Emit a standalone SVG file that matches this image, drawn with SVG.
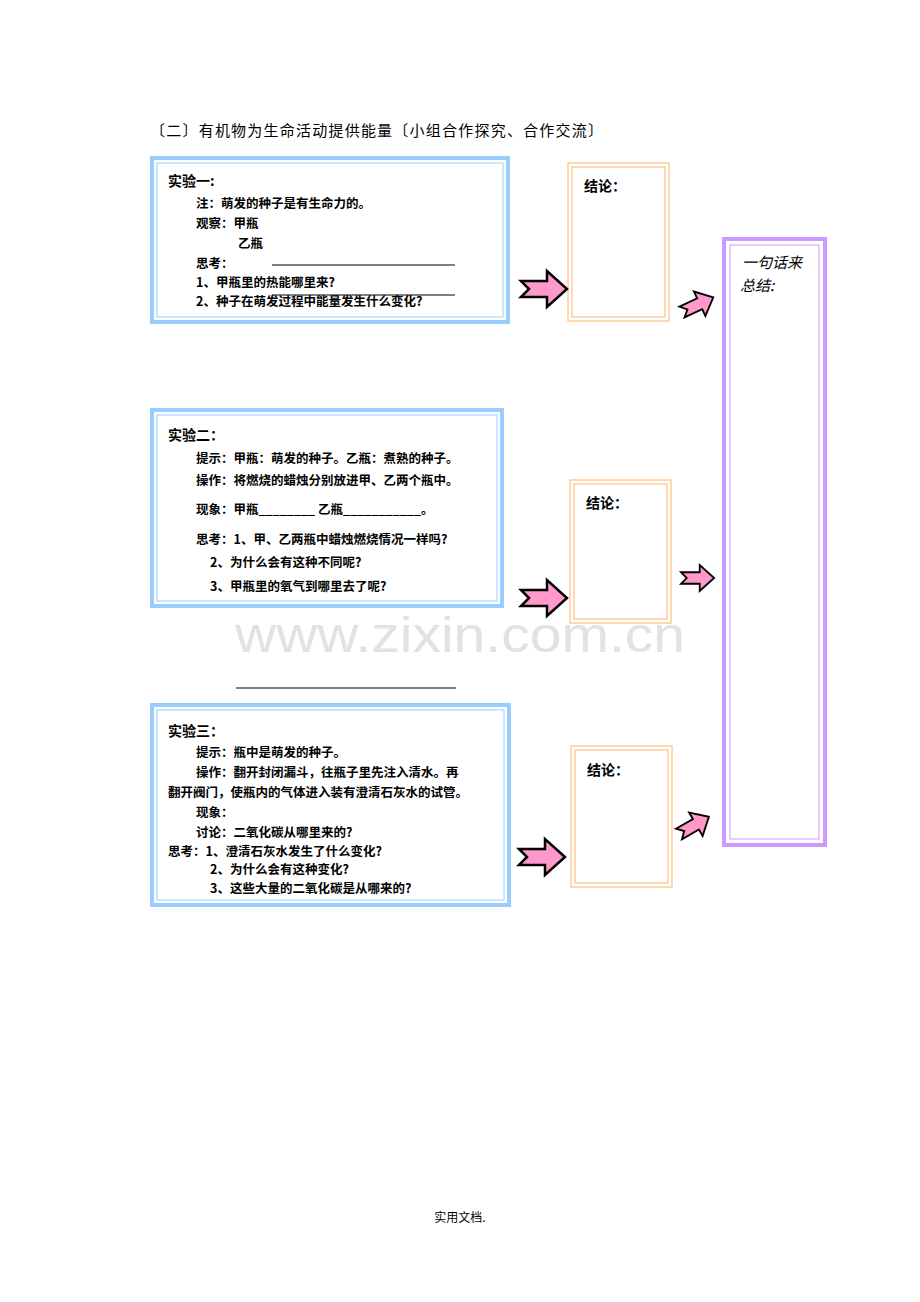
<svg xmlns="http://www.w3.org/2000/svg" width="920" height="1302" viewBox="0 0 920 1302">
<style>
text{font-family:"Noto Sans CJK SC","Liberation Sans",sans-serif;fill:#000}
.b{font-size:12.5px;font-weight:bold}
.h{font-size:14px;font-weight:bold}
.ob{fill:#fff;stroke:#99ccff;stroke-width:4}
.ib{fill:none;stroke:#99ccff;stroke-width:1}
.oo{fill:#fff;stroke:#ffcc99;stroke-width:1.5}
.op{fill:#fff;stroke:#cc99ff;stroke-width:4}
.ip{fill:none;stroke:#cc99ff;stroke-width:1}
.ln{stroke:#000;stroke-width:1.2}
</style>
<defs>
<path id="arr" d="M0,-8 L26,-8 L26,-18 L46,0 L26,18 L26,8 L0,8 L8,0 Z" fill="#ff99cc" stroke="#000" stroke-width="2.5" stroke-linejoin="miter"/>
</defs>
<rect width="920" height="1302" fill="#fff"/>
<text x="150" y="136" textLength="453" lengthAdjust="spacing" style="font-family:'Noto Sans CJK SC',serif;font-size:15px">〔二〕有机物为生命活动提供能量〔小组合作探究、合作交流〕</text>
<text x="235" y="652" textLength="450" lengthAdjust="spacingAndGlyphs" style="font-size:50px;fill:#e2e2e2;font-family:'Liberation Sans',sans-serif">www.zixin.com.cn</text>

<g id="exp1">
<rect class="ob" x="152" y="158" width="356" height="164"/>
<rect class="ib" x="157" y="163" width="346" height="154"/>
<text class="h" x="168" y="186">实验一:</text>
<text class="b" x="196" y="208">注：萌发的种子是有生命力的。</text>
<text class="b" x="196" y="228">观察：甲瓶</text>
<text class="b" x="238" y="248">乙瓶</text>
<text class="b" x="196" y="268">思考：</text>
<line class="ln" x1="272" y1="265" x2="455" y2="265"/>
<text class="b" x="196" y="287">1、甲瓶里的热能哪里来?</text>
<text class="b" x="196" y="306">2、种子在萌发过程中能量发生什么变化?</text>
<line class="ln" x1="272" y1="295" x2="455" y2="295"/>
</g>
<g id="exp2">
<rect class="ob" x="152" y="410" width="350" height="196"/>
<rect class="ib" x="157" y="415" width="340" height="186"/>
<text class="h" x="168" y="440">实验二：</text>
<text class="b" x="196" y="463">提示：甲瓶：萌发的种子。乙瓶：煮熟的种子。</text>
<text class="b" x="196" y="485">操作：将燃烧的蜡烛分别放进甲、乙两个瓶中。</text>
<text class="b" x="196" y="514">现象：甲瓶________     乙瓶___________。</text>
<text class="b" x="196" y="544">思考：1、甲、乙两瓶中蜡烛燃烧情况一样吗?</text>
<text class="b" x="210" y="567">2、为什么会有这种不同呢?</text>
<text class="b" x="210" y="591">3、甲瓶里的氧气到哪里去了呢?</text>
</g>
<line class="ln" x1="236" y1="688" x2="456" y2="688"/>
<g id="exp3">
<rect class="ob" x="152" y="705" width="357" height="200"/>
<rect class="ib" x="157" y="710" width="347" height="190"/>
<text class="h" x="168" y="736">实验三：</text>
<text class="b" x="196" y="757">提示：瓶中是萌发的种子。</text>
<text class="b" x="196" y="777">操作：翻开封闭漏斗，往瓶子里先注入清水。再</text>
<text class="b" x="168" y="797">翻开阀门，使瓶内的气体进入装有澄清石灰水的试管。</text>
<text class="b" x="196" y="817">现象：</text>
<text class="b" x="196" y="837">讨论：二氧化碳从哪里来的?</text>
<text class="b" x="168" y="856">思考：1、澄清石灰水发生了什么变化?</text>
<text class="b" x="210" y="874">2、为什么会有这种变化?</text>
<text class="b" x="210" y="893">3、这些大量的二氧化碳是从哪来的?</text>
</g>
<g id="c1"><rect class="oo" x="568" y="163" width="101" height="158"/><rect class="oo" x="572" y="167" width="93" height="150"/><text class="h" x="584" y="191">结论：</text></g>
<g id="c2"><rect class="oo" x="570" y="480" width="101" height="143"/><rect class="oo" x="574" y="484" width="93" height="135"/><text class="h" x="586" y="508">结论：</text></g>
<g id="c3"><rect class="oo" x="571" y="746" width="101" height="141"/><rect class="oo" x="575" y="750" width="93" height="133"/><text class="h" x="587" y="775">结论：</text></g>
<g id="summary">
<rect class="op" x="724" y="239" width="101" height="606"/>
<rect class="ip" x="730" y="245" width="89" height="594"/>
<text x="742" y="268" style="font-size:15px;font-style:italic">一句话来</text>
<text x="740" y="291" style="font-size:15px;font-style:italic">总结:</text>
</g>
<g id="connectors">
<use href="#arr" transform="translate(521,289)"/>
<use href="#arr" transform="translate(521,598)"/>
<use href="#arr" transform="translate(519,857)"/>
<use href="#arr" transform="translate(682,312) rotate(-25) scale(0.75)"/>
<use href="#arr" transform="translate(681,578) scale(0.72)"/>
<use href="#arr" transform="translate(679,834) rotate(-30) scale(0.75)"/>
</g>
<text x="460" y="1222" text-anchor="middle" style="font-size:12px">实用文档.</text>
</svg>
